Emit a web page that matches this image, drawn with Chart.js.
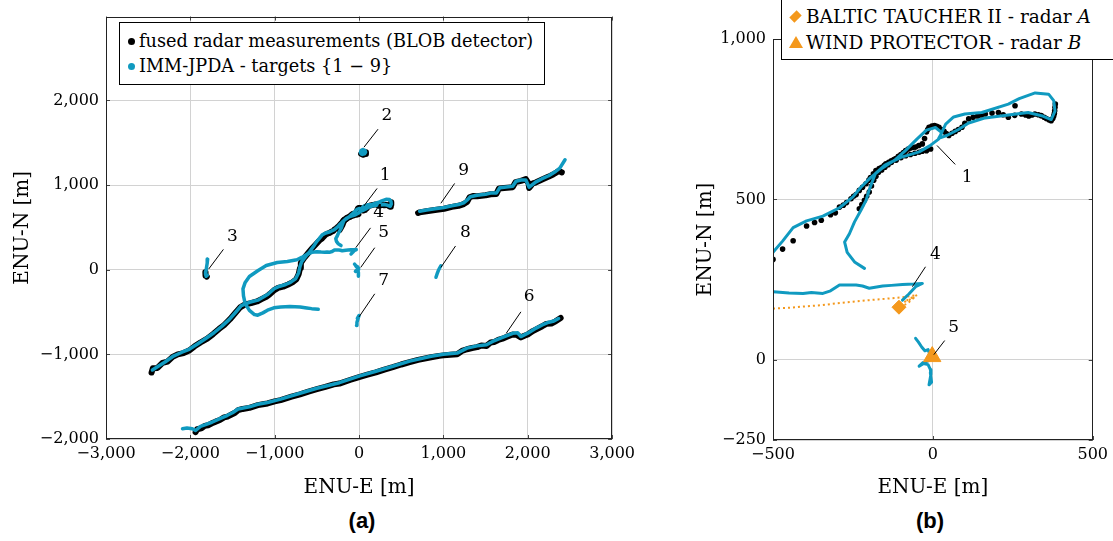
<!DOCTYPE html>
<html>
<head>
<meta charset="utf-8">
<script src="https://cdn.jsdelivr.net/npm/chart.js@4.4.1/dist/chart.umd.min.js"></script>
<style>
html, body { margin: 0; padding: 0; background: #fff; width: 1113px; height: 541px; overflow: hidden; }
.box { position: absolute; }
.legend { position: absolute; background: #fff; border: 1px solid #000; font-family: 'DejaVu Serif'; color: #000; box-sizing: border-box; }
.row { position: absolute; left: 0; white-space: nowrap; height: 24px; line-height: 24px; }
.mk { position: absolute; top: 50%; }
.dot { width: 7px; height: 7px; border-radius: 50%; margin-top: -3.5px; margin-left: -3.5px; }
.dia { width: 9px; height: 9px; background: #f4981c; transform: rotate(45deg) scale(0.8, 1.15); margin-top: -5px; margin-left: -5px; }
.tri { width: 0; height: 0; border-left: 7px solid transparent; border-right: 7px solid transparent; border-bottom: 12px solid #f4981c; margin-top: -7px; margin-left: -7px; }
.sub { position: absolute; font-family: 'Liberation Sans'; font-weight: bold; font-size: 22px; transform: translateX(-50%); }
</style>
</head>
<body>
<div class="box" style="left:0;top:0"><canvas id="chartA" width="640" height="500"></canvas></div>
<div class="box" style="left:680px;top:0"><canvas id="chartB" width="433" height="500"></canvas></div>

<div class="legend" style="left:119px;top:22px;width:426px;height:63px;font-size:17.7px">
  <div class="row" style="top:6px"><span class="mk dot" style="left:11px;background:#000"></span><span style="position:absolute;left:19px">fused radar measurements (BLOB detector)</span></div>
  <div class="row" style="top:31px"><span class="mk dot" style="left:11px;background:#109ac0"></span><span style="position:absolute;left:19px">IMM-JPDA - targets {1 − 9}</span></div>
</div>
<div class="legend" style="left:781px;top:-2px;width:345px;height:62px;font-size:18.5px">
  <div class="row" style="top:6px"><span class="mk dia" style="left:14px"></span><span style="position:absolute;left:24px">BALTIC TAUCHER II - radar <i>A</i></span></div>
  <div class="row" style="top:32px"><span class="mk tri" style="left:14px"></span><span style="position:absolute;left:24px">WIND PROTECTOR - radar <i>B</i></span></div>
</div>
<div class="sub" style="left:362px;top:508px">(a)</div>
<div class="sub" style="left:930px;top:508px">(b)</div>

<script>
const CYAN = '#109ac0';
const ORANGE = '#f4981c';

// tick values
const xTicksA = [-3000, -2000, -1000, 0, 1000, 2000, 3000];
const yTicksA = [-2000, -1000, 0, 1000, 2000];
const xTicksB = [-500, 0, 500];
const yTicksB = [-250, 0, 500, 1000];

// IMM-JPDA tracks (ENU-E, ENU-N in metres)
const track1 = [[-2450,-1185],[-2380,-1140],[-2300,-1090],[-2200,-1020],[-2100,-975],[-2015,-940],[-1920,-880],[-1800,-800],[-1720,-745],[-1628,-670],[-1540,-590],[-1460,-500],[-1396,-425],[-1300,-385],[-1200,-360],[-1140,-325],[-1080,-290],[-1007,-225],[-940,-195],[-870,-175],[-814,-150],[-750,-105],[-716,-35],[-700,40],[-680,95],[-630,160],[-580,220],[-530,290],[-500,335],[-470,370],[-437,412],[-395,433],[-344,448],[-292,474],[-250,508],[-225,538],[-195,568],[-160,596],[-120,622],[-85,653],[-50,688],[-20,716],[8,724],[28,708],[18,690],[45,700],[80,718],[112,738],[164,754],[236,763],[298,771],[340,761],[370,749],[382,775],[378,808],[362,828],[320,832],[270,814],[236,797],[153,771],[100,766],[65,757],[40,735],[18,688],[-10,667],[-43,648],[-100,631],[-150,607],[-180,580],[-199,530],[-209,497],[-225,466],[-245,430],[-261,393],[-276,367],[-268,335],[-245,305],[-214,285]];
const track2 = [[15,1385],[22,1408],[45,1420],[70,1410],[78,1390],[65,1368],[40,1362],[20,1372],[30,1395],[55,1400]];
const track3 = [[-1795,125],[-1800,80],[-1808,30],[-1815,-20],[-1820,-55],[-1812,-78],[-1798,-65]];
const track4 = [[-95,186],[-75,205],[-54,228],[-33,238],[-60,236],[-95,235],[-130,232],[-157,230],[-199,223],[-220,230],[-240,233],[-292,233],[-320,215],[-344,207],[-380,210],[-406,207],[-450,208],[-499,212],[-560,205],[-620,180],[-680,145],[-737,117],[-850,98],[-969,85],[-1100,50],[-1201,-12],[-1300,-80],[-1350,-150],[-1376,-226],[-1370,-310],[-1350,-400],[-1300,-480],[-1240,-530],[-1201,-537],[-1140,-510],[-1085,-478],[-1010,-450],[-930,-440],[-820,-435],[-698,-440],[-620,-452],[-562,-460],[-484,-467]];
const track5 = [[-54,67],[-45,55],[-35,40],[-25,28],[-15,32],[-10,18],[-6,2],[-18,-5],[-30,-8],[-43,-20],[-30,-12],[-15,-15],[-8,-30],[-6,-45],[-12,-78],[-4,-70],[-8,-40]];
const track6 = [[-2093,-1879],[-2040,-1870],[-1977,-1879],[-1938,-1900],[-1880,-1850],[-1820,-1830],[-1745,-1802],[-1650,-1760],[-1560,-1720],[-1500,-1690],[-1434,-1646],[-1300,-1620],[-1200,-1590],[-1085,-1568],[-930,-1529],[-700,-1460],[-500,-1400],[-233,-1335],[0,-1257],[200,-1200],[400,-1140],[600,-1080],[854,-1023],[1000,-1000],[1163,-985],[1279,-926],[1400,-900],[1512,-887],[1600,-840],[1700,-800],[1822,-751],[1880,-745],[1919,-790],[2000,-750],[2100,-690],[2171,-653],[2250,-620],[2300,-610],[2366,-576]];
const track7 = [[-30,-660],[-25,-620],[-15,-590],[-5,-555],[0,-540],[-20,-575]];
const track8 = [[912,-90],[925,-50],[940,-10],[955,20],[970,47]];
const track9 = [[718,690],[800,705],[900,720],[1008,735],[1100,755],[1180,770],[1241,790],[1290,830],[1319,862],[1400,880],[1500,892],[1560,905],[1628,905],[1668,968],[1720,975],[1822,985],[1861,1045],[1920,1060],[1977,1060],[2017,975],[2093,1035],[2170,1075],[2249,1110],[2330,1160],[2380,1200],[2442,1299]];

// fused radar measurements (BLOB detector)
const meas1 = [[-2460,-1215],[-2445,-1165],[-2390,-1160],[-2330,-1100],[-2270,-1085],[-2210,-1030],[-2150,-1000],[-2080,-985],[-2015,-955],[-1950,-905],[-1880,-860],[-1800,-815],[-1730,-760],[-1660,-700],[-1600,-655],[-1530,-585],[-1470,-515],[-1410,-445],[-1350,-410],[-1280,-395],[-1210,-375],[-1150,-345],[-1100,-320],[-1060,-290],[-1010,-245],[-960,-215],[-900,-200],[-840,-175],[-790,-150],[-745,-115],[-715,-50],[-700,20],[-690,80],[-650,140],[-600,200],[-550,260],
  [-500,313],[-470,345],[-437,371],[-395,417],[-370,428],[-349,435],[-320,452],[-305,458],[-292,476],[-280,482],[-270,490],[-256,502],[-248,510],[-240,515],[-230,528],[-220,538],[-209,549],[-200,560],[-195,568],[-186,580],[-178,590],[-168,596],[-160,600],[-152,606],[-147,611],[-138,616],[-130,620],[-122,624],[-116,627],[-108,634],[-100,640],[-92,646],[-85,652],[-77,657],[-70,660],[-62,662],[-54,663],[-44,668],[-33,673],[-26,690],[-20,710],[-16,718],[-12,725],[-3,729],[5,730],[12,728],[19,725],[27,718],[35,712],[42,705],[50,699],[60,706],[70,712],[80,718],[91,725],[100,737],[112,751],[126,756],[140,760],[152,763],[164,766],[185,769],[205,771],[220,764],[236,756],[256,762],[277,766],[290,763],[300,760],[310,763],[319,766],[330,764],[339,761],[348,756],[355,752],[363,748],[370,745],[375,752],[378,760],[380,768],[381,776],[382,787],[383,797]];
const meas1b = [[-7,657],[-20,652],[-33,650],[-43,647],[-56,644],[-70,640],[-85,636],[-100,630],[-115,622],[-130,615],[-140,608],[-150,600],[-160,592],[-170,585],[-178,572],[-185,560],[-192,542],[-199,523],[-207,510],[-214,497],[-222,484],[-230,471]];
const measLoose = [[257,792]];
const meas2 = [[25,1370],[50,1358],[75,1368],[82,1388]];
const meas3 = [[-1822,-30],[-1820,-70],[-1805,-82]];
const meas6 = [[-1938,-1918],[-1920,-1885],[-1870,-1875],[-1830,-1845],[-1790,-1838],[-1745,-1815],[-1700,-1795],[-1650,-1775],[-1600,-1745],[-1560,-1735],[-1500,-1705],[-1470,-1690],[-1434,-1660],[-1380,-1645],[-1300,-1632],[-1200,-1600],[-1140,-1590],[-1085,-1580],[-1000,-1555],[-930,-1540],[-800,-1500],[-700,-1472],[-600,-1440],[-500,-1412],[-400,-1385],[-300,-1355],[-233,-1345],[-100,-1300],[0,-1268],[100,-1240],[200,-1212],[300,-1180],[400,-1152],[500,-1120],[600,-1092],[700,-1065],[854,-1035],[950,-1018],[1000,-1012],[1080,-1005],[1163,-998],[1220,-960],[1279,-940],[1340,-925],[1400,-915],[1450,-895],[1512,-900],[1560,-860],[1600,-855],[1650,-830],[1700,-815],[1760,-790],[1822,-765],[1870,-770],[1919,-800],[1960,-780],[2000,-765],[2060,-725],[2100,-705],[2171,-668],[2220,-640],[2280,-635],[2330,-610],[2390,-570]];
const meas9 = [[700,670],[718,677],[800,690],[900,705],[1008,720],[1100,742],[1180,755],[1241,775],[1280,800],[1310,855],[1350,870],[1400,868],[1500,880],[1560,892],[1628,895],[1660,960],[1720,965],[1822,975],[1855,1035],[1920,1050],[1977,1070],[2010,1020],[2017,965],[2060,1020],[2093,1030],[2170,1065],[2249,1100],[2300,1125],[2366,1165],[2404,1150]];

// vessels carrying the radars
const balticPath = [[-500,160],[-450,162],[-406,166],[-350,170],[-302,176],[-250,181],[-199,186],[-150,190],[-95,195],[-49,202],[-70,192],[-90,180],[-60,193],[-80,175],[-106,164]];
const radarA = [[-106,164]];
const radarB = [[-2,10]];

// target labels: text, label position, pointer start, pointer end
const notesA = [
  ['1', [310,1115], [214,960], [58,754]],
  ['2', [330,1816], [225,1660], [58,1447]],
  ['3', [-1500,397], [-1608,240], [-1783,7]],
  ['4', [233,669], [136,494], [-38,261]],
  ['5', [291,435], [186,260], [20,27]],
  ['6', [2017,-323], [1919,-498], [1745,-751]],
  ['7', [291,-128], [186,-285], [0,-557]],
  ['8', [1260,435], [1144,280], [970,27]],
  ['9', [1241,1174], [1133,1019], [970,785]]
];
const notesB = [
  ['1', [107,569], [70,609], [13,668]],
  ['4', [8,329], [-23,290], [-64,228]],
  ['5', [65,102], [37,60], [3,16]]
];

const pts = a => a.map(([x, y]) => ({x, y}));
const fmt = v => (v < 0 ? '\u2212' : '') + Math.abs(v).toLocaleString('en-US');

function framePlugin(notes) {
  return {
    id: 'frame',
    afterDatasetsDraw(chart) {
      const {ctx, chartArea: a, scales: {x, y}} = chart;
      ctx.save();
      ctx.strokeStyle = '#444';
      ctx.lineWidth = 1;
      ctx.beginPath();
      x.ticks.forEach(t => {
        const p = Math.round(x.getPixelForValue(t.value)) + 0.5;
        ctx.moveTo(p, a.bottom); ctx.lineTo(p, a.bottom - 4);
        ctx.moveTo(p, a.top); ctx.lineTo(p, a.top + 4);
      });
      y.ticks.forEach(t => {
        const p = Math.round(y.getPixelForValue(t.value)) + 0.5;
        ctx.moveTo(a.left, p); ctx.lineTo(a.left + 4, p);
        ctx.moveTo(a.right, p); ctx.lineTo(a.right - 4, p);
      });
      ctx.stroke();
      ctx.strokeStyle = '#222';
      ctx.strokeRect(Math.round(a.left) + 0.5, Math.round(a.top) + 0.5, Math.round(a.width) - 1, Math.round(a.height) - 1);

      ctx.strokeStyle = '#000';
      ctx.fillStyle = '#000';
      ctx.font = '17px "DejaVu Serif"';
      ctx.textAlign = 'center';
      ctx.textBaseline = 'middle';
      notes.forEach(([t, at, from, to]) => {
        ctx.beginPath();
        ctx.moveTo(x.getPixelForValue(from[0]), y.getPixelForValue(from[1]));
        ctx.lineTo(x.getPixelForValue(to[0]), y.getPixelForValue(to[1]));
        ctx.stroke();
        ctx.fillText(t, x.getPixelForValue(at[0]), y.getPixelForValue(at[1]));
      });
      ctx.restore();
    }
  };
}

function axis(min, max, ticks, title, size, pad, horizontal) {
  return {
    type: 'linear', min, max,
    afterBuildTicks: s => { s.ticks = ticks.map(v => ({value: v})); },
    afterFit: s => { if (horizontal) s.height = size; else s.width = size; },
    ticks: {callback: fmt, color: '#000', font: {family: 'DejaVu Serif', size: 16}, padding: horizontal ? 5 : 7},
    grid: {color: '#d2d2d2', lineWidth: 1, drawTicks: false},
    border: {display: false},
    title: {display: true, text: title, color: '#000', font: {family: 'DejaVu Serif', size: 20},
            padding: horizontal ? {top: 0, bottom: pad} : {top: pad, bottom: 0}}
  };
}

const line = (data, color, width, order, extra) => Object.assign({
  data: pts(data), showLine: true, borderColor: color, backgroundColor: color, borderWidth: width,
  pointRadius: 0, borderJoinStyle: 'round', borderCapStyle: 'round', order
}, extra || {});

const common = {
  responsive: false,
  animation: false,
  events: [],
  plugins: {legend: {display: false}, tooltip: {enabled: false}}
};

// (a) full scene
const tracksA = [track1, track2, track3, track4, track5, track6, track7, track8, track9];
const measA = [meas1, meas1b, meas2, meas3, meas6, meas9];
new Chart(document.getElementById('chartA'), {
  type: 'scatter',
  data: {
    datasets: [
      ...measA.map(m => line(m, '#000', 6, 2)),
      ...tracksA.map(t => line(t, CYAN, 3.5, 1))
    ]
  },
  options: Object.assign({}, common, {
    layout: {padding: {top: 11, right: 19, left: 0, bottom: 0}},
    scales: {
      x: axis(-3000, 3000, xTicksA, 'ENU-E [m]', 61, 0, true),
      y: axis(-2000, 2990, yTicksA, 'ENU-N [m]', 106, 11, false)
    }
  }),
  plugins: [framePlugin(notesA)]
});

// (b) close-up around the radars
new Chart(document.getElementById('chartB'), {
  type: 'scatter',
  data: {
    datasets: [
      ...[meas1, meas1b, measLoose].map(m => ({data: pts(m), showLine: false, pointRadius: 2.8, pointBorderWidth: 0,
                                    backgroundColor: '#000', borderColor: '#000', order: 2})),
      ...[track1, track4, track5].map(t => line(t, CYAN, 3, 1)),
      line(balticPath, ORANGE, 2, 1, {borderDash: [2, 3], borderCapStyle: 'butt'}),
      {data: pts(radarA), pointStyle: 'rectRot', pointRadius: 7, backgroundColor: ORANGE, borderColor: ORANGE, order: 0},
      {data: pts(radarB), pointStyle: 'triangle', pointRadius: 10, backgroundColor: ORANGE, borderColor: ORANGE, order: 0}
    ]
  },
  options: Object.assign({}, common, {
    layout: {padding: {top: 39, right: 19, left: 0, bottom: 0}},
    scales: {
      x: axis(-500, 500, xTicksB, 'ENU-E [m]', 60, 0, true),
      y: axis(-250, 1000, yTicksB, 'ENU-N [m]', 93, 14, false)
    }
  }),
  plugins: [framePlugin(notesB)]
});
</script>
</body>
</html>
